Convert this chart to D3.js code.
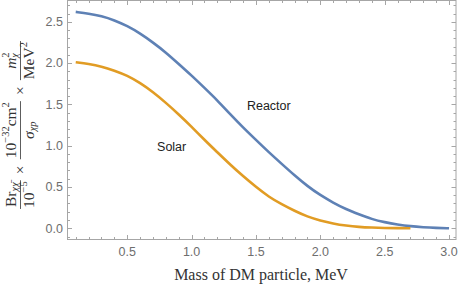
<!DOCTYPE html>
<html>
<head>
<meta charset="utf-8">
<script src="https://cdn.jsdelivr.net/npm/d3@7"></script>
<style>
  html, body { margin: 0; padding: 0; background: #fff; }
  svg { display: block; }
</style>
</head>
<body>
<svg id="chart" width="458" height="287"></svg>
<script>
// ---- data ----
const reactorMass = [0.1,0.2,0.3,0.4,0.5,0.6,0.7,0.8,0.9,1.0,1.1,1.2,1.3,1.4,1.5,1.6,1.7,1.8,1.9,2.0,2.1,2.2,2.3,2.4,2.5,2.6,2.7,2.8,2.9,3.0];
const reactorValue = [2.62,2.60,2.57,2.52,2.45,2.36,2.25,2.13,1.99,1.85,1.70,1.55,1.38,1.22,1.07,0.92,0.78,0.64,0.51,0.40,0.31,0.23,0.17,0.11,0.073,0.045,0.024,0.012,0.004,0.0];
const solarMass = [0.1,0.2,0.3,0.4,0.5,0.6,0.7,0.8,0.9,1.0,1.1,1.2,1.3,1.4,1.5,1.6,1.7,1.8,1.9,2.0,2.1,2.2,2.3,2.4,2.5,2.6,2.7];
const solarValue = [2.01,1.99,1.96,1.91,1.85,1.76,1.65,1.52,1.38,1.23,1.07,0.92,0.77,0.63,0.50,0.38,0.29,0.21,0.14,0.093,0.057,0.032,0.016,0.008,0.003,0.001,0.0];
const xTicks = [0.5,1.0,1.5,2.0,2.5,3.0];
const yTicks = [0.0,0.5,1.0,1.5,2.0,2.5];
const seriesNames = ["Reactor","Solar"];
const xLabel = "Mass of DM particle, MeV";

// ---- layout ----
const svg = d3.select("#chart");
const L = 67.5, R = 456, T = 0.5, B = 239.5;
const x = d3.scaleLinear().domain([0.036, 3.054]).range([L, R]);
const y = d3.scaleLinear().domain([-0.136, 2.758]).range([B, T]);

const frameColor = "#a6a6a6";
const tickLabelColor = "#6e6e6e";

// minor ticks
const xMinor = d3.range(0.1, 3.05, 0.1).map(v => +v.toFixed(2));
const yMinor = d3.range(-0.1, 2.75, 0.1).map(v => +v.toFixed(2));
const isMajor = v => Math.abs(v*2 - Math.round(v*2)) < 1e-6;

const tickG = svg.append("g").attr("stroke", frameColor).attr("stroke-width", 1);
xMinor.forEach(v => {
  const len = isMajor(v) ? 4.5 : 2.5;
  const px = Math.round(x(v)) + 0.5;
  tickG.append("line").attr("x1", px).attr("x2", px).attr("y1", B).attr("y2", B - len);
  tickG.append("line").attr("x1", px).attr("x2", px).attr("y1", T).attr("y2", T + len);
});
yMinor.forEach(v => {
  const len = isMajor(v) ? 4.5 : 2.5;
  const py = Math.round(y(v)) + 0.5;
  tickG.append("line").attr("x1", L).attr("x2", L + len).attr("y1", py).attr("y2", py);
  tickG.append("line").attr("x1", R).attr("x2", R - len).attr("y1", py).attr("y2", py);
});

// frame
svg.append("rect").attr("x", L).attr("y", T).attr("width", R - L).attr("height", B - T)
  .attr("fill", "none").attr("stroke", frameColor).attr("stroke-width", 1);

// tick labels
const tickFont = "Liberation Sans, Arial, sans-serif";
svg.append("g").selectAll("text").data(xTicks).join("text")
  .attr("x", d => x(d)).attr("y", 256)
  .attr("text-anchor", "middle")
  .attr("font-family", tickFont).attr("font-size", 12.5)
  .attr("fill", tickLabelColor)
  .text(d => d3.format(".1f")(d));
svg.append("g").selectAll("text").data(yTicks).join("text")
  .attr("x", 63).attr("y", d => y(d) + 4.3)
  .attr("text-anchor", "end")
  .attr("font-family", tickFont).attr("font-size", 12.5)
  .attr("fill", tickLabelColor)
  .text(d => d3.format(".1f")(d));

// curves
const line = d3.line().x(d => x(d[0])).y(d => y(d[1])).curve(d3.curveBasis);
const reactor = reactorMass.map((m, i) => [m, reactorValue[i]]);
const solar = solarMass.map((m, i) => [m, solarValue[i]]);
svg.append("path").datum(reactor).attr("d", line)
  .attr("fill", "none").attr("stroke", "#5E81B5").attr("stroke-width", 2.6);
svg.append("path").datum(solar).attr("d", line)
  .attr("fill", "none").attr("stroke", "#E19C24").attr("stroke-width", 2.6);

// series labels
svg.append("text").attr("x", x(1.6)).attr("y", 110)
  .attr("text-anchor", "middle").attr("font-family", tickFont).attr("font-size", 12.5)
  .attr("fill", "#222").text(seriesNames[0]);
svg.append("text").attr("x", x(0.845)).attr("y", 150.5)
  .attr("text-anchor", "middle").attr("font-family", tickFont).attr("font-size", 12.5)
  .attr("fill", "#222").text(seriesNames[1]);

// x axis label
const serif = "Liberation Serif, Times New Roman, serif";
svg.append("text").attr("x", 261).attr("y", 280)
  .attr("text-anchor", "middle").attr("font-family", serif).attr("font-size", 16)
  .attr("fill", "#333").text(xLabel);

// y axis label (math expression), rotated
const FS = 15.5, SS = 10.5;
const yl = svg.append("g").attr("transform", "translate(0,125) rotate(-90)")
  .attr("font-family", serif).attr("fill", "#333");

function runs(g, items, baseY) {
  let cx = 0;
  items.forEach(it => {
    if (it.k === "stack") {
      const a = g.append("text").attr("x", cx).attr("y", baseY - 6.5).attr("font-size", SS).text(it.sup);
      const b = g.append("text").attr("x", cx).attr("y", baseY + 2.5).attr("font-size", SS).attr("font-style", "italic").text(it.sub);
      cx += Math.max(a.node().getComputedTextLength(), b.node().getComputedTextLength());
      return;
    }
    const dy = it.k === "sup" ? -6.5 : it.k === "sub" ? 2.5 : 0;
    const t = g.append("text").attr("x", cx).attr("y", baseY + dy)
      .attr("font-size", it.k === "n" ? FS : SS)
      .attr("font-style", it.it ? "italic" : "normal")
      .text(it.t);
    cx += t.node().getComputedTextLength() + (it.gap || 0);
  });
  return cx;
}

function fraction(parent, num, den) {
  const g = parent.append("g");
  const ng = g.append("g"), dg = g.append("g");
  const nw = runs(ng, num, 15.5);
  const dw = runs(dg, den, 33.5);
  const w = Math.max(nw, dw) + 2;
  ng.attr("transform", `translate(${(w - nw) / 2},0)`);
  dg.attr("transform", `translate(${(w - dw) / 2},0)`);
  g.append("line").attr("x1", 0).attr("x2", w).attr("y1", 20.5).attr("y2", 20.5)
    .attr("stroke", "#333").attr("stroke-width", 0.8);
  return { g, w };
}

const parts = [];
parts.push(fraction(yl,
  [{t: "Br", k: "n"}, {t: "χχ̄", k: "sub", it: true}],
  [{t: "10", k: "n"}, {t: "−5", k: "sup"}]));
parts.push({ times: true });
parts.push(fraction(yl,
  [{t: "10", k: "n"}, {t: "−32", k: "sup"}, {t: "cm", k: "n"}, {t: "2", k: "sup"}],
  [{t: "σ", k: "n", it: true}, {t: "χp", k: "sub", it: true}]));
parts.push({ times: true });
parts.push(fraction(yl,
  [{t: "m", k: "n", it: true}, {k: "stack", sup: "2", sub: "χ"}],
  [{t: "MeV", k: "n"}, {t: "2", k: "sup"}]));

const gap = 5, timesW = 11;
let total = 0;
parts.forEach((p, i) => { total += p.times ? timesW : p.w; if (i < parts.length - 1) total += gap; });
let cur = -total / 2;
parts.forEach(p => {
  if (p.times) {
    yl.append("text").attr("x", cur + timesW / 2).attr("y", 24.5).attr("text-anchor", "middle")
      .attr("font-size", FS).text("×");
    cur += timesW + gap;
  } else {
    p.g.attr("transform", `translate(${cur},0)`);
    cur += p.w + gap;
  }
});
</script>
</body>
</html>
